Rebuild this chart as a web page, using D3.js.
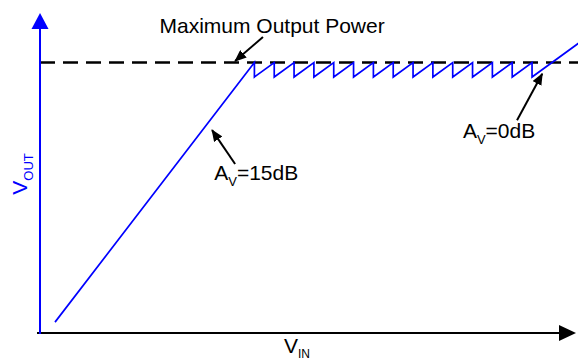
<!DOCTYPE html>
<html>
<head>
<meta charset="utf-8">
<script src="https://cdn.jsdelivr.net/npm/d3@7"></script>
<style>
html,body{margin:0;padding:0;background:#fff;}
svg{display:block;font-family:"Liberation Sans",Arial,Helvetica,sans-serif;}
</style>
</head>
<body>
<svg id="chart" width="578" height="360"></svg>
<script>
// ---- data (arbitrary V_IN / V_OUT units) ----
const maxOutputPower = 8.45;
const vinValues  = [0.28, 4.00, 4.00, 4.37, 4.37, 4.74, 4.74, 5.11, 5.11, 5.48, 5.48, 5.85, 5.85, 6.22, 6.22, 6.59, 6.59, 6.96, 6.96, 7.33, 7.33, 7.70, 7.70, 8.07, 8.07, 8.44, 8.44, 8.81, 8.81, 9.18, 9.18, 10.05];
const voutValues = [0.34, 8.45, 8.00, 8.45, 8.00, 8.45, 8.00, 8.45, 8.00, 8.45, 8.00, 8.45, 8.00, 8.45, 8.00, 8.45, 8.00, 8.45, 8.00, 8.45, 8.00, 8.45, 8.00, 8.45, 8.00, 8.45, 8.00, 8.45, 8.00, 8.45, 8.00, 9.06];
const xAxisLabel = "V";
const xAxisSub = "IN";
const yAxisLabel = "V";
const yAxisSub = "OUT";
const noteLabels = ["Maximum Output Power", "A", "A"];
const noteSubs = ["", "V", "V"];
const noteTails = ["", "=15dB", "=0dB"];
// arrow start / end in data units
const noteFromX = [4.16, 3.64, 8.90];
const noteFromY = [9.25, 5.28, 6.65];
const noteToX   = [3.64, 3.21, 9.37];
const noteToY   = [8.50, 6.34, 8.10];
const noteTextX = [4.33, 3.25, 7.89];
const noteTextY = [9.375, 4.78, 6.09];

const svg = d3.select("#chart");
const x = d3.scaleLinear().domain([0, 10]).range([40, 576]);
const y = d3.scaleLinear().domain([0, 10]).range([333, 13]);
const blue = "#0000ff";

// arrow marker
const defs = svg.append("defs");
defs.append("marker").attr("id","ah").attr("viewBox","0 0 12 10")
  .attr("refX",11).attr("refY",5).attr("markerWidth",12).attr("markerHeight",10)
  .attr("markerUnits","userSpaceOnUse").attr("orient","auto")
  .append("path").attr("d","M0,0 L12,5 L0,10 Z").attr("fill","#000");

// max output power dashed line
svg.append("line")
  .attr("x1", x(0)).attr("x2", 578)
  .attr("y1", y(maxOutputPower)).attr("y2", y(maxOutputPower))
  .attr("stroke","#000").attr("stroke-width",2.5).attr("stroke-dasharray","15,8");

// V_OUT curve
const pts = vinValues.map((v,i)=>[v, voutValues[i]]);
svg.append("path").datum(pts)
  .attr("d", d3.line().x(d=>x(d[0])).y(d=>y(d[1])))
  .attr("fill","none").attr("stroke",blue).attr("stroke-width",1.7)
  .attr("stroke-linejoin","miter");

// x axis with arrow
const x0 = x(0), y0 = y(0), xEnd = x.range()[1], yEnd = y.range()[1];
svg.append("line").attr("x1", x0-3).attr("x2", xEnd-14).attr("y1", y0).attr("y2", y0)
  .attr("stroke","#000").attr("stroke-width",2);
svg.append("path")
  .attr("d", `M${xEnd},${y0} L${xEnd-17},${y0-8} L${xEnd-17},${y0+8} Z`)
  .attr("fill","#000");

// y axis with arrow
svg.append("line").attr("x1", x0).attr("x2", x0).attr("y1", y0+1).attr("y2", yEnd+14)
  .attr("stroke",blue).attr("stroke-width",2);
svg.append("path")
  .attr("d", `M${x0},${yEnd} L${x0-8.5},${yEnd+16} L${x0+8.5},${yEnd+16} Z`)
  .attr("fill",blue);

// axis labels
const xl = svg.append("text").attr("x", 297).attr("y", 353)
  .attr("text-anchor","middle").attr("font-size",21).attr("fill","#000");
xl.append("tspan").text(xAxisLabel);
xl.append("tspan").attr("font-size",12).attr("dy",5).text(xAxisSub);

const yl = svg.append("text").attr("transform","translate(27,174) rotate(-90)")
  .attr("text-anchor","middle").attr("font-size",21).attr("fill",blue);
yl.append("tspan").text(yAxisLabel);
yl.append("tspan").attr("font-size",13).attr("dy",6).text(yAxisSub);

// annotations
noteLabels.forEach((lab,i)=>{
  svg.append("line")
    .attr("x1", x(noteFromX[i])).attr("y1", y(noteFromY[i]))
    .attr("x2", x(noteToX[i])).attr("y2", y(noteToY[i]))
    .attr("stroke","#000").attr("stroke-width",2).attr("marker-end","url(#ah)");
  const t = svg.append("text").attr("x", x(noteTextX[i])).attr("y", y(noteTextY[i]))
    .attr("font-size",21).attr("fill","#000")
    .attr("text-anchor", i===0 ? "middle" : "start");
  t.append("tspan").text(lab);
  if (noteSubs[i]) {
    t.append("tspan").attr("font-size",13).attr("dy",6).text(noteSubs[i]);
    t.append("tspan").attr("dy",-6).text(noteTails[i]);
  }
});
</script>
</body>
</html>
